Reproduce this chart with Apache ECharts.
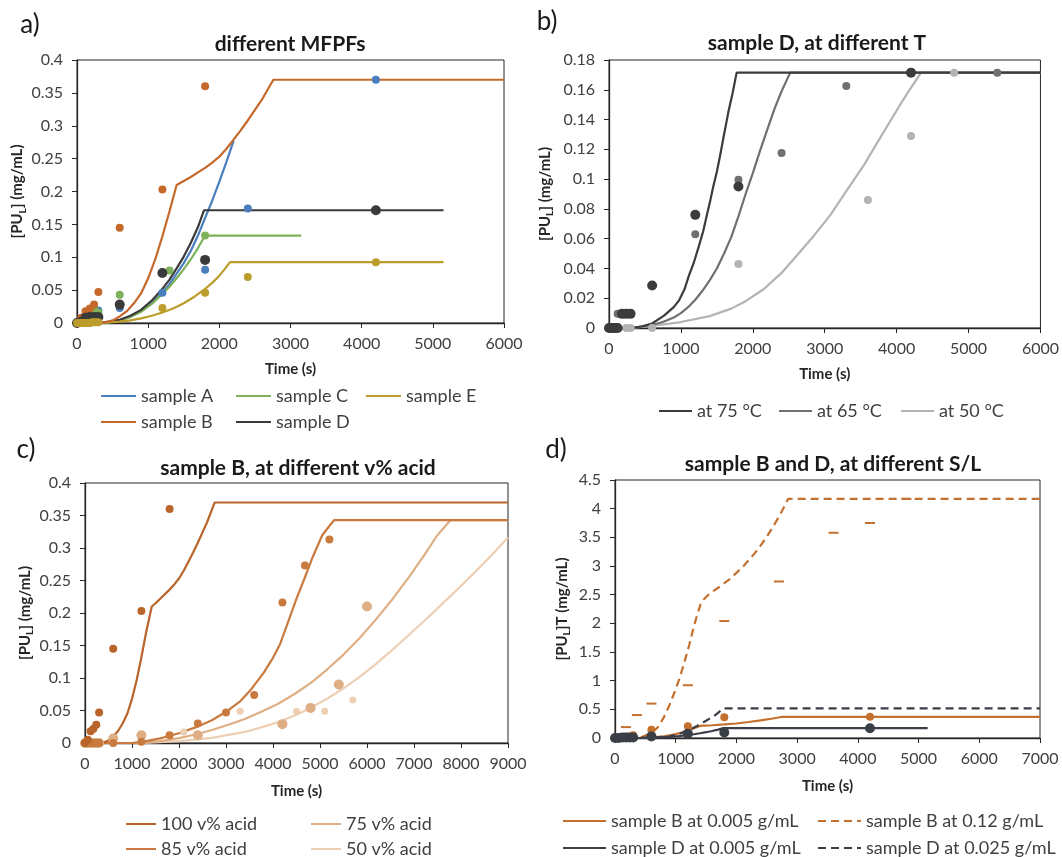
<!DOCTYPE html>
<html>
<head>
<meta charset="utf-8">
<script src="https://cdn.jsdelivr.net/npm/echarts/dist/echarts.min.js"></script>
<style>
  html, body { margin: 0; padding: 0; background: #fff; }
  #chart { width: 1062px; height: 857px; }
</style>
</head>
<body>
<div id="chart"></div>
<script>
// ---- panel a: different MFPFs ([time s, conc mg/mL]) ----
const aLineA = [[0,0],[300,0],[450,0.001],[600,0.004],[750,0.01],[900,0.018],[1050,0.03],[1200,0.046],[1300,0.059],[1400,0.075],[1500,0.091],[1600,0.11],[1700,0.133],[1800,0.16],[1900,0.186],[2000,0.215],[2100,0.245],[2200,0.277]];
const aLineB = [[0,0],[300,0],[400,0.001],[500,0.004],[600,0.01],[700,0.018],[800,0.03],[900,0.045],[1000,0.068],[1100,0.097],[1200,0.132],[1300,0.17],[1400,0.21],[1500,0.216],[1600,0.222],[1700,0.229],[1800,0.236],[1900,0.244],[2000,0.253],[2100,0.265],[2200,0.279],[2300,0.293],[2400,0.308],[2500,0.324],[2600,0.34],[2700,0.359],[2760,0.37],[6000,0.37]];
const aLineC = [[0,0],[300,0],[450,0.001],[600,0.004],[750,0.009],[900,0.017],[1050,0.029],[1200,0.044],[1300,0.055],[1400,0.068],[1500,0.082],[1600,0.097],[1700,0.114],[1800,0.133],[3150,0.133]];
const aLineD = [[0,0],[300,0],[450,0.002],[600,0.005],[750,0.011],[900,0.02],[1050,0.034],[1200,0.052],[1300,0.066],[1400,0.083],[1500,0.101],[1600,0.122],[1700,0.146],[1785,0.1715],[5150,0.1715]];
const aLineE = [[0,0],[300,0],[600,0.002],[750,0.004],[900,0.007],[1050,0.011],[1200,0.016],[1350,0.022],[1500,0.03],[1650,0.04],[1800,0.052],[1900,0.061],[2000,0.072],[2075,0.082],[2150,0.0925],[5150,0.0925]];
const aPtsA = [[0,0],[60,0.004],[120,0.012],[180,0.016],[240,0.022],[300,0.019],[600,0.023],[1200,0.046],[1800,0.081],[2400,0.174],[4200,0.37]];
const aPtsB = [[0,0],[60,0.008],[120,0.018],[180,0.022],[240,0.028],[300,0.047],[600,0.145],[1200,0.203],[1800,0.36]];
const aPtsC = [[0,0],[60,0.005],[120,0.012],[180,0.015],[240,0.02],[300,0.016],[600,0.043],[1300,0.08],[1800,0.133]];
const aPtsD = [[0,0],[60,0.002],[120,0.008],[180,0.009],[240,0.009],[300,0.009],[600,0.028],[1200,0.076],[1800,0.096],[4200,0.1715]];
const aPtsE = [[0,0],[30,0],[60,0],[90,0],[120,0],[150,0],[180,0],[210,0.001],[240,0.001],[270,0.001],[300,0.001],[1200,0.023],[1800,0.046],[2400,0.07],[4200,0.0925]];

// ---- panel b: sample D at different T ----
const bLine75 = [[0,0],[300,0],[450,0.001],[600,0.003],[770,0.0085],[900,0.014],[975,0.0186],[1050,0.026],[1110,0.035],[1180,0.044],[1250,0.055],[1310,0.065],[1362,0.076],[1410,0.086],[1450,0.095],[1500,0.105],[1546,0.116],[1600,0.13],[1660,0.145],[1720,0.158],[1775,0.1715],[6000,0.1715]];
const bLine65 = [[0,0],[300,0],[450,0.001],[600,0.002],[750,0.004],[900,0.007],[1000,0.01],[1100,0.014],[1200,0.019],[1300,0.025],[1400,0.032],[1500,0.04],[1600,0.05],[1700,0.061],[1800,0.075],[1900,0.09],[2000,0.104],[2100,0.119],[2200,0.133],[2300,0.147],[2400,0.159],[2520,0.1715],[6000,0.1715]];
const bLine50 = [[0,0],[300,0],[700,0.002],[1000,0.004],[1400,0.008],[1700,0.013],[1900,0.018],[2150,0.026],[2400,0.037],[2600,0.048],[2850,0.062],[3080,0.076],[3300,0.092],[3540,0.109],[3700,0.122],[3900,0.138],[4050,0.15],[4180,0.16],[4340,0.1715],[6000,0.1715]];
const bPts75 = [[0,0],[30,0],[60,0],[90,0],[120,0],[180,0.0095],[240,0.0095],[300,0.0095],[600,0.0285],[1200,0.076],[1800,0.095],[4200,0.1715]];
const bPts65 = [[0,0],[60,0],[120,0.0095],[1200,0.063],[1800,0.0995],[2400,0.1175],[3300,0.1625],[5400,0.1715]];
const bPts50 = [[240,0],[300,0],[600,0],[1800,0.043],[3600,0.086],[4200,0.129],[4800,0.1715]];

// ---- panel c: sample B at different v% acid ----
const cLine100 = [[0,0],[300,0],[400,0.001],[500,0.004],[600,0.01],[700,0.018],[800,0.03],[900,0.045],[1000,0.068],[1100,0.097],[1200,0.132],[1300,0.17],[1420,0.21],[1500,0.215],[1600,0.222],[1700,0.229],[1800,0.236],[1900,0.244],[2000,0.253],[2100,0.265],[2200,0.279],[2300,0.293],[2400,0.308],[2500,0.324],[2600,0.34],[2700,0.359],[2760,0.37],[9000,0.37]];
const cLine85 = [[0,0],[1000,0],[1300,0.003],[1650,0.008],[2000,0.015],[2350,0.024],[2700,0.035],[3000,0.048],[3300,0.064],[3550,0.084],[3800,0.108],[4000,0.131],[4150,0.152],[4330,0.188],[4500,0.222],[4680,0.255],[4850,0.287],[5050,0.32],[5300,0.343],[9000,0.343]];
const cLine75 = [[0,0],[1200,0],[1600,0.003],[2000,0.0075],[2350,0.013],[2700,0.02],[3050,0.028],[3400,0.037],[3750,0.048],[4100,0.06],[4450,0.075],[4800,0.092],[5150,0.113],[5500,0.136],[5850,0.162],[6200,0.191],[6550,0.222],[6900,0.256],[7200,0.287],[7500,0.32],[7780,0.343],[9000,0.343]];
const cLine50 = [[0,0],[1200,0],[2000,0.003],[2700,0.008],[3400,0.017],[3750,0.024],[4100,0.032],[4450,0.042],[4800,0.054],[5150,0.068],[5500,0.084],[5850,0.102],[6200,0.122],[6550,0.144],[6900,0.167],[7250,0.19],[7600,0.214],[7950,0.238],[8300,0.263],[8650,0.289],[9000,0.316]];
const cPts100 = [[0,0],[60,0.005],[120,0.018],[180,0.022],[240,0.028],[300,0.047],[600,0.145],[1200,0.203],[1800,0.36]];
const cPts85 = [[0,0],[60,0],[120,0],[180,0],[240,0],[300,0],[600,0],[1200,0.002],[1800,0.012],[2400,0.03],[3000,0.047],[3600,0.074],[4200,0.216],[4680,0.273],[5200,0.313]];
const cPts75 = [[0,0],[60,0],[120,0],[180,0],[240,0],[300,0],[600,0.007],[1200,0.012],[2400,0.012],[4200,0.029],[4800,0.054],[5400,0.09],[6000,0.21]];
const cPts50 = [[0,0],[60,0],[120,0],[180,0],[240,0],[300,0],[600,0],[1200,0.002],[2100,0.017],[3300,0.049],[4500,0.049],[5100,0.049],[5700,0.066]];

// ---- panel d: sample B and D at different S/L ----
const dLineB005 = [[0,0],[300,0],[400,0.001],[500,0.004],[600,0.01],[700,0.018],[800,0.03],[900,0.045],[1000,0.068],[1100,0.097],[1200,0.132],[1300,0.17],[1400,0.21],[1600,0.222],[1800,0.236],[2000,0.253],[2200,0.279],[2400,0.308],[2600,0.34],[2760,0.37],[7000,0.37]];
const dLineB012 = [[0,0],[300,0],[450,0.02],[600,0.09],[700,0.18],[800,0.35],[900,0.58],[1000,0.85],[1075,1.08],[1150,1.35],[1225,1.63],[1300,1.95],[1360,2.17],[1420,2.37],[1500,2.46],[1600,2.55],[1700,2.62],[1800,2.7],[1900,2.78],[2000,2.88],[2100,2.98],[2200,3.1],[2300,3.22],[2400,3.36],[2500,3.51],[2600,3.68],[2700,3.86],[2780,4.02],[2850,4.17],[7000,4.17]];
const dLineD005 = [[0,0],[300,0],[450,0.002],[600,0.005],[750,0.011],[900,0.02],[1050,0.034],[1200,0.052],[1300,0.066],[1400,0.083],[1500,0.101],[1600,0.122],[1700,0.146],[1785,0.1715],[5150,0.1715]];
const dLineD025 = [[0,0],[300,0],[600,0.006],[900,0.03],[1050,0.07],[1200,0.13],[1350,0.21],[1500,0.3],[1650,0.4],[1785,0.515],[7000,0.515]];
const dPtsB005 = [[0,0],[60,0.008],[120,0.018],[180,0.022],[240,0.028],[300,0.047],[600,0.145],[1200,0.203],[1800,0.36],[4200,0.37]];
const dPtsB012 = [[180,0.19],[360,0.4],[600,0.6],[1200,0.92],[1800,2.04],[2700,2.73],[3600,3.58],[4200,3.75],[4800,4.17]];
const dPtsD005 = [[0,0],[60,0.002],[120,0.008],[180,0.009],[240,0.009],[300,0.009],[600,0.028],[1200,0.076],[1800,0.096],[4200,0.1715]];

const F = 'Lato';
const INK = '#262626';

function xAx(gi, max, gap) {
  return {
    type: 'value', gridIndex: gi, min: 0, max: max, interval: 1000,
    name: 'Time (s)', nameLocation: 'middle', nameGap: gap,
    nameTextStyle: { fontFamily: F, fontSize: 15, fontWeight: 'bold', color: INK },
    axisLine: { onZero: false, lineStyle: { color: INK, width: 1.3 } },
    axisTick: { length: 5, lineStyle: { color: INK } },
    axisLabel: { fontFamily: F, fontSize: 16, color: '#404040', margin: 13, formatter: v => String(v) },
    splitLine: { show: false }
  };
}
function yAx(gi, max, interval, name, gap) {
  return {
    type: 'value', gridIndex: gi, min: 0, max: max, interval: interval,
    name: name, nameLocation: 'middle', nameGap: gap, nameRotate: 90,
    nameTextStyle: {
      rich: {
        n: { fontFamily: F, fontSize: 15, fontWeight: 'bold', color: INK, lineHeight: 20 },
        s: { fontFamily: F, fontSize: 10, fontWeight: 'bold', color: INK, lineHeight: 12, verticalAlign: 'bottom' }
      }
    },
    axisLine: { onZero: false, lineStyle: { color: INK, width: 1.3 } },
    axisTick: { length: 5, lineStyle: { color: INK } },
    axisLabel: { fontFamily: F, fontSize: 16, color: '#404040', margin: 14, formatter: v => String(+v.toFixed(3)) },
    splitLine: { show: false }
  };
}
function line(name, data, gi, color, dash) {
  return {
    name: name, type: 'line', xAxisIndex: gi, yAxisIndex: gi, data: data,
    showSymbol: false, symbol: 'none', z: 2, animation: false,
    lineStyle: { color: color, width: 2.2, type: dash || 'solid' },
    itemStyle: { color: color }
  };
}
function dots(name, data, gi, color, size, symbol) {
  return {
    name: name, type: 'scatter', xAxisIndex: gi, yAxisIndex: gi, data: data,
    symbol: symbol || 'circle', symbolSize: size, z: 3, animation: false,
    itemStyle: { color: color, opacity: 1 }
  };
}
function leg(name, left, top, w) {
  return {
    data: [name], left: left, top: top, itemWidth: w, itemHeight: 14, itemGap: 0,
    padding: 0, selectedMode: false,
    itemStyle: { opacity: 0 },
    textStyle: { fontFamily: F, fontSize: 18, color: '#404040' }
  };
}
function txt(text, x, y, size, bold) {
  return {
    type: 'text', x: x, y: y,
    style: { text: text, align: 'center', verticalAlign: 'middle', fontFamily: F,
      fontSize: size, fontWeight: bold ? 'bold' : 'normal', fill: '#1a1a1a' }
  };
}

const cA = '#4a7ebf', cB = '#c5692b', cC = '#7db25a', cD = '#3a3a3a', cE = '#bc9c2a';
const c75 = '#3c3c3c', c65 = '#707070', c50 = '#b3b3b3';
const p100 = '#b9642a', p85 = '#c97a3f', p75 = '#deae84', p50 = '#edcfb3';
const dB = '#c4702f', dD = '#3a3f47';

const grid = [
  { left: 77, top: 60, width: 427, height: 263 },
  { left: 609, top: 60, width: 436, height: 268 },
  { left: 85, top: 483, width: 423, height: 260 },
  { left: 615, top: 480, width: 425, height: 258 }
].map(g => Object.assign(g, { show: true, borderColor: INK, borderWidth: 1, backgroundColor: '#fff' }));

const option = {
  backgroundColor: '#fff',
  animation: false,
  grid: grid,
  xAxis: [xAx(0, 6000, 39), xAx(1, 6000, 39), xAx(2, 9000, 41), xAx(3, 7000, 41)],
  yAxis: [
    yAx(0, 0.4, 0.05, '{n|[PU}{s|L}{n|] (mg/mL)}', 48),
    yAx(1, 0.18, 0.02, '{n|[PU}{s|L}{n|] (mg/mL)}', 54),
    yAx(2, 0.4, 0.05, '{n|[PU}{s|L}{n|] (mg/mL)}', 50),
    yAx(3, 4.5, 0.5, '{n|[PU}{s|L}{n|]T (mg/mL)}', 43)
  ],
  legend: [
    leg('sample A', 100, 387, 35), leg('sample C', 235, 387, 35), leg('sample E', 365, 387, 35),
    leg('sample B', 100, 413, 35), leg('sample D', 235, 413, 35),
    leg('at 75 °C', 658, 402, 33), leg('at 65 °C', 778, 402, 33), leg('at 50 °C', 900, 402, 33),
    leg('100 v% acid', 125, 815, 30), leg('75 v% acid', 310, 815, 30),
    leg('85 v% acid', 125, 840, 30), leg('50 v% acid', 310, 840, 30),
    leg('sample B at 0.005 g/mL', 562, 812, 43), leg('sample B at 0.12 g/mL', 817, 812, 43),
    leg('sample D at 0.005 g/mL', 562, 839, 43), leg('sample D at 0.025 g/mL', 817, 839, 43)
  ],
  graphic: [
    txt('a)', 30, 25, 26, false), txt('b)', 547, 22, 26, false),
    txt('c)', 26, 450, 26, false), txt('d)', 556, 450, 26, false),
    txt('different MFPFs', 290, 44, 21, true),
    txt('sample D, at different T', 817, 43, 21, true),
    txt('sample B, at different v% acid', 298, 468, 21, true),
    txt('sample B and D, at different S/L', 833, 464, 21, true)
  ],
  series: [
    // a
    line('sample A', aLineA, 0, cA), line('sample C', aLineC, 0, cC), line('sample D', aLineD, 0, cD),
    line('sample E', aLineE, 0, cE), line('sample B', aLineB, 0, cB),
    dots('A data', aPtsA, 0, cA, 8), dots('C data', aPtsC, 0, cC, 8), dots('B data', aPtsB, 0, cB, 8),
    dots('D data', aPtsD, 0, cD, 10), dots('E data', aPtsE, 0, cE, 8),
    // b
    line('at 50 °C', bLine50, 1, c50), line('at 65 °C', bLine65, 1, c65), line('at 75 °C', bLine75, 1, c75),
    dots('50 data', bPts50, 1, c50, 8), dots('65 data', bPts65, 1, c65, 8), dots('75 data', bPts75, 1, c75, 10),
    // c
    line('50 v% acid', cLine50, 2, p50), line('75 v% acid', cLine75, 2, p75),
    line('85 v% acid', cLine85, 2, p85), line('100 v% acid', cLine100, 2, p100),
    dots('50 acid data', cPts50, 2, p50, 7), dots('75 acid data', cPts75, 2, p75, 10),
    dots('85 acid data', cPts85, 2, p85, 8), dots('100 acid data', cPts100, 2, p100, 8),
    // d
    line('sample B at 0.005 g/mL', dLineB005, 3, dB), line('sample B at 0.12 g/mL', dLineB012, 3, dB, [8, 5]),
    line('sample D at 0.005 g/mL', dLineD005, 3, dD), line('sample D at 0.025 g/mL', dLineD025, 3, dD, [8, 5]),
    dots('B012 data', dPtsB012, 3, dB, [10, 2], 'rect'),
    dots('B005 data', dPtsB005, 3, dB, 8), dots('D005 data', dPtsD005, 3, dD, 10)
  ]
};

const chart = echarts.init(document.getElementById('chart'), null, { renderer: 'canvas' });
chart.setOption(option);
</script>
</body>
</html>
